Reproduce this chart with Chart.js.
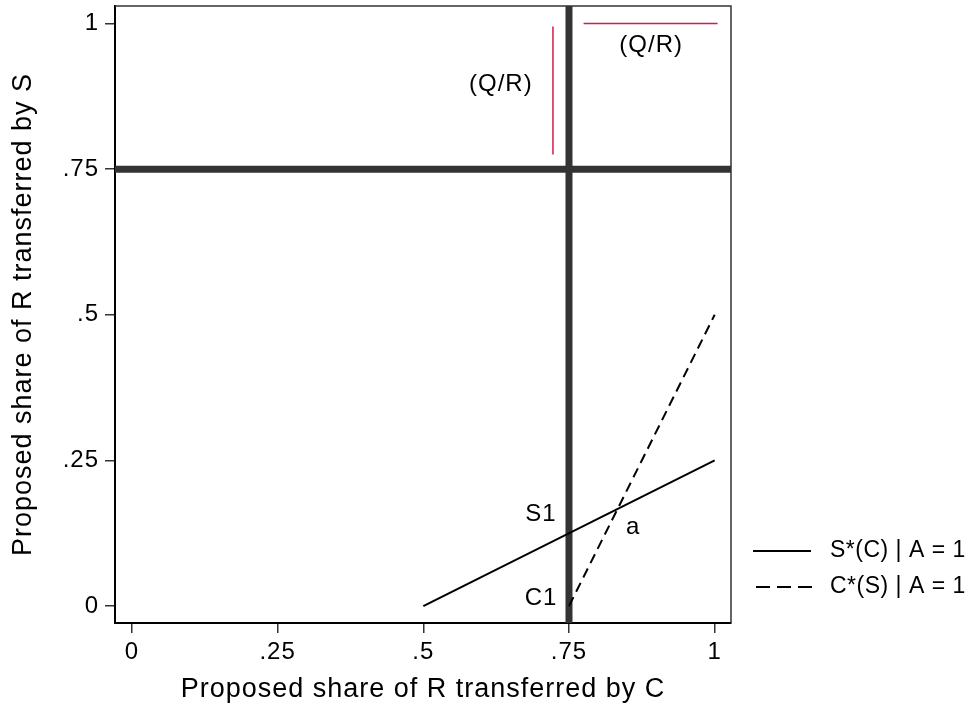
<!DOCTYPE html>
<html>
<head>
<meta charset="utf-8">
<script src="https://cdn.jsdelivr.net/npm/chart.js@4.4.0/dist/chart.umd.min.js"></script>
<style>
  html, body { margin: 0; padding: 0; background: #fff; }
  #chart { display: block; }
</style>
</head>
<body>
<canvas id="chart" width="977" height="711"></canvas>
<script>
// axis ticks
var xTicks = [0, 0.25, 0.5, 0.75, 1];
var xTickLabels = ['0', '.25', '.5', '.75', '1'];
var yTicks = [0, 0.25, 0.5, 0.75, 1];
var yTickLabels = ['0', '.25', '.5', '.75', '1'];

// best responses
var sBestX = [0.5, 1];
var sBestY = [0, 0.25];
var cBestX = [0.75, 1];
var cBestY = [0, 0.5];

// thick reference lines at .75
var refValue = 0.75;

// (Q/R) segments
var qrVertX = [0.7225, 0.7225];
var qrVertY = [0.775, 0.995];
var qrHorzX = [0.775, 1.005];
var qrHorzY = [1, 1];

// text placed in data units
var noteText = ['(Q/R)', '(Q/R)', 'S1', 'C1', 'a'];
var noteX = [0.633, 0.891, 0.702, 0.702, 0.860];
var noteY = [0.896, 0.962, 0.157, 0.013, 0.135];

var legendLabels = ['S*(C) | A = 1', 'C*(S) | A = 1'];

var xMin = -0.029, xMax = 1.028;
var yMin = -0.029, yMax = 1.030;
var FONT = 'Liberation Sans, Arial, Helvetica, sans-serif';

function pts(xs, ys) {
  return xs.map(function(x, i) { return {x: x, y: ys[i]}; });
}

var framePlugin = {
  id: 'frame',
  beforeDraw: function(chart) {
    chart.ctx.letterSpacing = '1px';
  },
  afterDatasetsDraw: function(chart) {
    var ctx = chart.ctx, a = chart.chartArea;
    ctx.save();
    ctx.strokeStyle = '#333';
    ctx.lineWidth = 1.5;
    ctx.beginPath();
    ctx.moveTo(a.left, a.top);
    ctx.lineTo(a.right, a.top);
    ctx.lineTo(a.right, a.bottom);
    ctx.stroke();

    // notes
    var xs = chart.scales.x, ys = chart.scales.y;
    ctx.fillStyle = '#000';
    ctx.font = '24px ' + FONT;
    ctx.textAlign = 'center';
    ctx.textBaseline = 'middle';
    noteText.forEach(function(t, i) {
      ctx.fillText(t, xs.getPixelForValue(noteX[i]), ys.getPixelForValue(noteY[i]));
    });
    ctx.restore();
  },
  afterDraw: function(chart) {
    var ctx = chart.ctx;
    var rowsY = [551, 587];
    ctx.save();
    ctx.font = '23px ' + FONT;
    ctx.letterSpacing = '0.5px';
    ctx.textAlign = 'left';
    ctx.textBaseline = 'middle';
    legendLabels.forEach(function(label, i) {
      var ds = chart.data.datasets[i];
      ctx.strokeStyle = ds.borderColor;
      ctx.lineWidth = ds.borderWidth;
      ctx.setLineDash(i === 0 ? [] : [14, 7]);
      ctx.beginPath();
      ctx.moveTo(i === 0 ? 753 : 756, rowsY[i]);
      ctx.lineTo(i === 0 ? 811 : 812, rowsY[i]);
      ctx.stroke();
      ctx.setLineDash([]);
      ctx.fillStyle = '#000';
      ctx.fillText(label, 830, rowsY[i]);
    });
    ctx.restore();
  }
};

var ctx = document.getElementById('chart').getContext('2d');
var chart = new Chart(ctx, {
  type: 'scatter',
  data: {
    datasets: [
      {label: legendLabels[0], data: pts(sBestX, sBestY), showLine: true, borderColor: '#000', borderWidth: 2, pointRadius: 0},
      {label: legendLabels[1], data: pts(cBestX, cBestY), showLine: true, borderColor: '#000', borderWidth: 2, borderDash: [10, 6], pointRadius: 0},
      {label: 'qr1', data: pts(qrVertX, qrVertY), showLine: true, borderColor: '#cc1f4a', borderWidth: 1.5, pointRadius: 0},
      {label: 'qr2', data: pts(qrHorzX, qrHorzY), showLine: true, borderColor: '#cc1f4a', borderWidth: 1.5, pointRadius: 0},
      {label: 'v', data: pts([refValue, refValue], [yMin, yMax]), showLine: true, borderColor: '#333', borderWidth: 7, pointRadius: 0},
      {label: 'h', data: pts([xMin, xMax], [refValue, refValue]), showLine: true, borderColor: '#333', borderWidth: 7, pointRadius: 0}
    ]
  },
  options: {
    responsive: false,
    animation: false,
    layout: {padding: {left: 0, top: 6, right: 246, bottom: 0}},
    plugins: {legend: {display: false}, tooltip: {enabled: false}},
    scales: {
      x: {
        type: 'linear', min: xMin, max: xMax,
        afterBuildTicks: function(s) { s.ticks = xTicks.map(function(v) { return {value: v}; }); },
        afterFit: function(s) { s.height = 88; s.paddingLeft = 0; s.paddingRight = 0; },
        ticks: {
          color: '#000', font: {family: FONT, size: 24}, padding: 5,
          callback: function(v) { return xTickLabels[xTicks.indexOf(v)]; }
        },
        grid: {drawOnChartArea: false, drawTicks: true, tickLength: 10, color: '#333', lineWidth: 1.5},
        border: {color: '#000', width: 2},
        title: {display: true, text: 'Proposed share of R transferred by C', color: '#000',
                font: {family: FONT, size: 27}, padding: {top: 0, bottom: 5}}
      },
      y: {
        type: 'linear', min: yMin, max: yMax,
        afterBuildTicks: function(s) { s.ticks = yTicks.map(function(v) { return {value: v}; }); },
        afterFit: function(s) { s.width = 115; s.paddingTop = 0; s.paddingBottom = 0; },
        ticks: {
          color: '#000', font: {family: FONT, size: 24}, padding: 6,
          callback: function(v) { return yTickLabels[yTicks.indexOf(v)]; }
        },
        grid: {drawOnChartArea: false, drawTicks: true, tickLength: 10, color: '#333', lineWidth: 1.5},
        border: {color: '#000', width: 2},
        title: {display: true, text: 'Proposed share of R transferred by S', color: '#000',
                font: {family: FONT, size: 27}, padding: {top: 7, bottom: 0}}
      }
    }
  },
  plugins: [framePlugin]
});
</script>
</body>
</html>
